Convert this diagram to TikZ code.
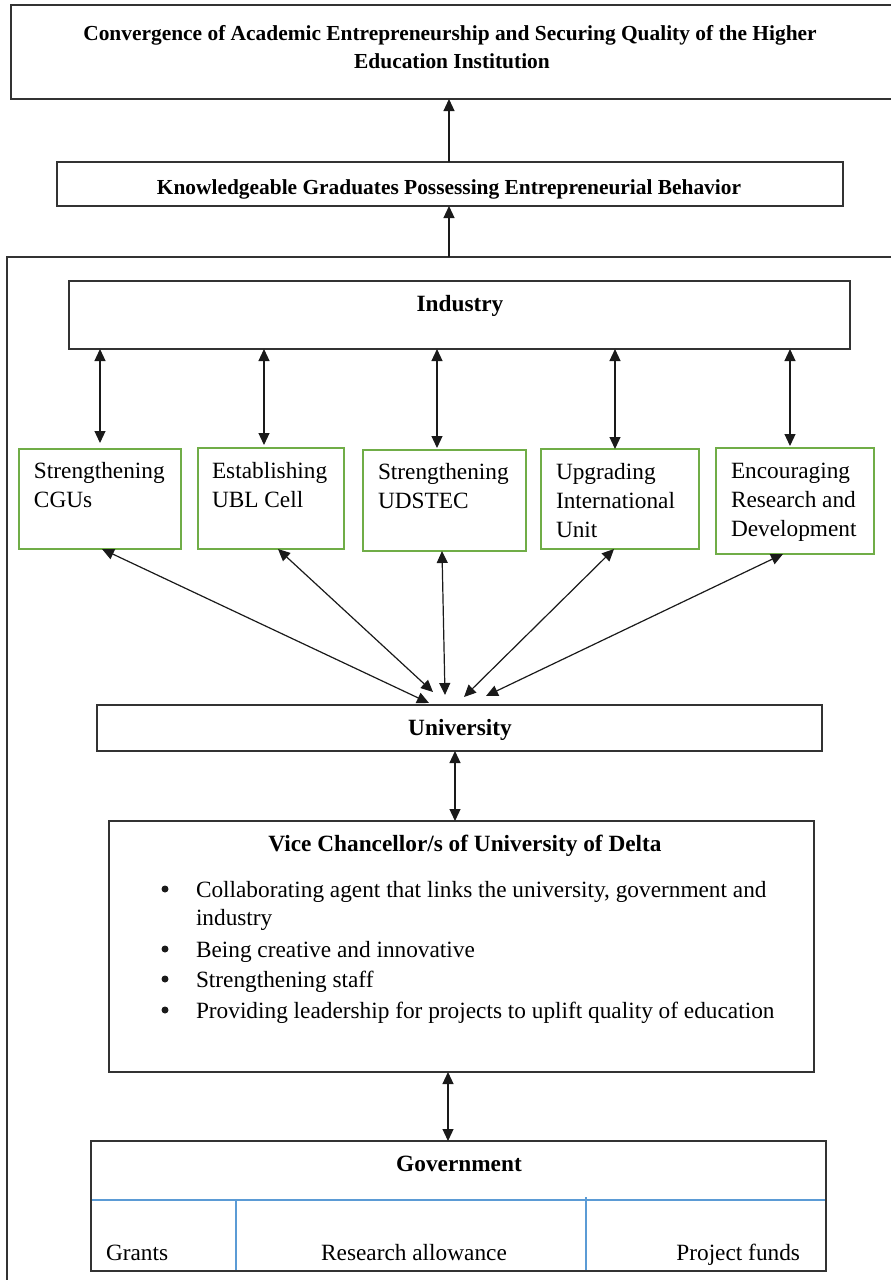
\documentclass[tikz,border=0pt]{standalone}
\usepackage{fontspec}
\setmainfont{Liberation Serif}
\usetikzlibrary{arrows.meta,fit}

\definecolor{edgegray}{HTML}{333333}
\definecolor{inkblack}{HTML}{1A1A1A}
\definecolor{leafgreen}{HTML}{70AD47}
\definecolor{rowblue}{HTML}{5B9BD5}

\newcommand{\bodyfont}{\fontsize{23.3}{29}\selectfont}
\newcommand{\headfont}{\bfseries\fontsize{23.3}{29}\selectfont}
\newcommand{\topfont}{\bfseries\fontsize{21.4}{28}\selectfont}
\newcommand{\leftlines}[1]{\begin{tabular}[t]{@{}l@{}}#1\end{tabular}}

\begin{document}
\begin{tikzpicture}[x=1pt,y=-1pt,
  panel/.style={draw=edgegray, line width=1.4pt, inner sep=0pt, outer sep=0pt},
  greenpanel/.style={draw=leafgreen, line width=1.3pt, inner sep=0pt, outer sep=0pt},
  txt/.style={inner sep=0pt, outer sep=0pt},
  twoway/.style={{Triangle[length=12pt,width=11pt]}-{Triangle[length=12pt,width=11pt]}, draw=inkblack, line width=1.2pt},
  oneway/.style={-{Triangle[length=12pt,width=11pt]}, draw=inkblack, line width=1.2pt}
]
\useasboundingbox (0,0) rectangle (891,1280);

% ---- outcome boxes ----
\node[panel, fit={(11,5) (893,99)}] (goal) {};
\node[txt, anchor=base, font=\topfont] (goalA) at (450,40)
  {Convergence of Academic Entrepreneurship and Securing Quality of the Higher};
\node[txt, anchor=base, font=\topfont] (goalB) at (452,68) {Education Institution};

\node[panel, fit={(57,162) (843,206)}] (grad) {};
\node[txt, anchor=base, font=\topfont] (gradT) at (449,194)
  {Knowledgeable Graduates Possessing Entrepreneurial Behavior};

% ---- enclosing frame ----
\node[panel, fit={(7,257) (897,1295)}] (frame) {};

% ---- industry ----
\node[panel, fit={(69,281) (850,349)}] (ind) {};
\node[txt, anchor=base, font=\headfont] (indT) at (460,311) {Industry};

% ---- initiatives ----
\node[greenpanel, fit={(19,449) (181,549)}] (g1) {};
\node[greenpanel, fit={(198,448) (344,549)}] (g2) {};
\node[greenpanel, fit={(363,450) (526,551)}] (g3) {};
\node[greenpanel, fit={(541,449) (699,549)}] (g4) {};
\node[greenpanel, fit={(716,448) (874,554)}] (g5) {};

\node[txt, anchor=base west, font=\bodyfont] (g1T) at (34,478) {\leftlines{Strengthening\\CGUs}};
\node[txt, anchor=base west, font=\bodyfont] (g2T) at (212,478) {\leftlines{Establishing\\UBL Cell}};
\node[txt, anchor=base west, font=\bodyfont] (g3T) at (378,479) {\leftlines{Strengthening\\UDSTEC}};
\node[txt, anchor=base west, font=\bodyfont] (g4T) at (556,479) {\leftlines{Upgrading\\International\\Unit}};
\node[txt, anchor=base west, font=\bodyfont] (g5T) at (731,478) {\leftlines{Encouraging\\Research and\\Development}};

% ---- university ----
\node[panel, fit={(97,705) (822,751)}] (uni) {};
\node[txt, anchor=base, font=\headfont] (uniT) at (460,735) {University};

% ---- vice chancellor ----
\node[panel, fit={(109,821) (814,1072)}] (vc) {};
\node[txt, anchor=base, font=\headfont] (vcT) at (465,851) {Vice Chancellor/s of University of Delta};
\node[txt, anchor=base west, font=\bodyfont] (vcA) at (196,897) {Collaborating agent that links the university, government and};
\node[txt, anchor=base west, font=\bodyfont] (vcA2) at (196,925) {industry};
\node[txt, anchor=base west, font=\bodyfont] (vcB) at (196,957) {Being creative and innovative};
\node[txt, anchor=base west, font=\bodyfont] (vcC) at (196,987) {Strengthening staff};
\node[txt, anchor=base west, font=\bodyfont] (vcD) at (196,1018) {Providing leadership for projects to uplift quality of education};
\foreach \yb in {897,957,987,1018}
  \fill[inkblack] (165,\yb-8) circle (3.5);

% ---- government ----
\draw[rowblue, line width=1.2pt] (91,1200) -- (826,1200);
\draw[rowblue, line width=1.2pt] (236,1200) -- (236,1271);
\draw[rowblue, line width=1.2pt] (586,1197) -- (586,1271);
\node[panel, fit={(91,1141) (826,1271)}] (gov) {};
\node[txt, anchor=base, font=\headfont] (govT) at (459,1171) {Government};
\node[txt, anchor=base west, font=\bodyfont] (grants) at (106,1260) {Grants};
\node[txt, anchor=base, font=\bodyfont] (allow) at (414,1260) {Research allowance};
\node[txt, anchor=base east, font=\bodyfont] (funds) at (800,1260) {Project funds};

% ---- connectors ----
\draw[oneway] (grad.north -| 449,0) -- (goal.south -| 449,0);
\draw[oneway] (frame.north -| 449,0) -- (grad.south -| 449,0);

\coordinate (a1) at ([shift={(0,-6)}]g1.north);
\coordinate (a2) at ([shift={(-7,-3)}]g2.north);
\coordinate (a3) at ([shift={(-7.5,-2)}]g3.north);
\coordinate (a4) at ([shift={(-5,0)}]g4.north);
\coordinate (a5) at ([shift={(-5,-2)}]g5.north);
\foreach \k in {1,...,5}
  \draw[twoway] (ind.south -| a\k) -- (a\k);

\draw[twoway] ([shift={(2,0)}]g1.south) -- ([shift={(-30.5,-2)}]uni.north);
\draw[twoway] ([shift={(7,0)}]g2.south) -- ([shift={(-26.5,-13)}]uni.north);
\draw[twoway] ([shift={(-2.5,0)}]g3.south) -- ([shift={(-14.5,-10)}]uni.north);
\draw[twoway] ([shift={(-6,0)}]g4.south) -- ([shift={(4.5,-8)}]uni.north);
\draw[twoway] ([shift={(-12,0)}]g5.south) -- ([shift={(26.5,-9)}]uni.north);

\coordinate (uv) at ([shift={(-4.5,0)}]uni.south);
\draw[twoway] (uv) -- (vc.north -| uv);
\coordinate (vg) at ([shift={(-13.5,0)}]vc.south);
\draw[twoway] (vg) -- (gov.north -| vg);
\end{tikzpicture}
\end{document}
